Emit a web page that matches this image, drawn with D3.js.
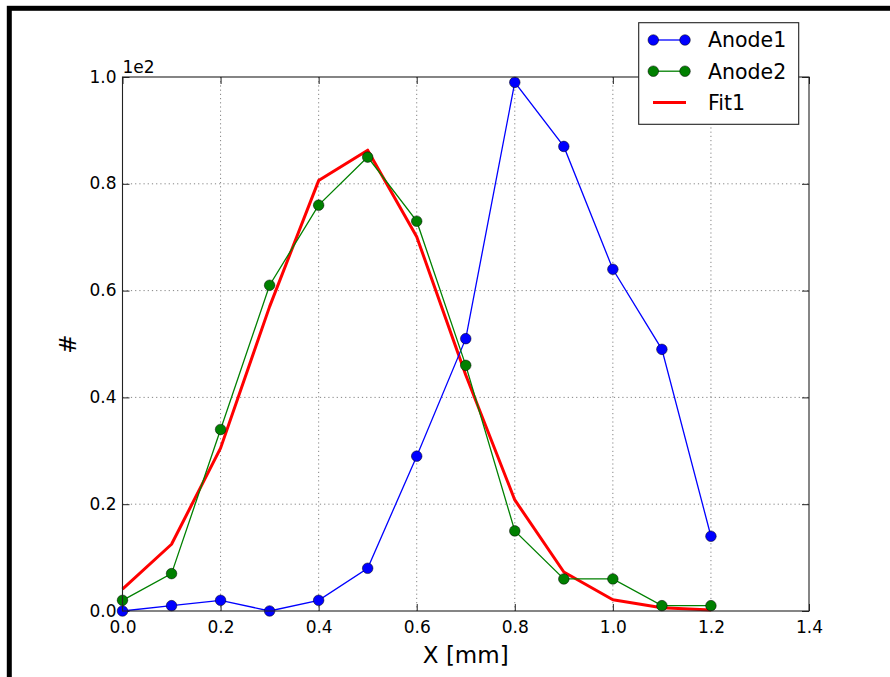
<!DOCTYPE html>
<html><head><meta charset="utf-8">
<script src="https://cdn.jsdelivr.net/npm/d3@7"></script>
<style>
html,body{margin:0;padding:0;background:#fff;}
svg{display:block;font-family:"DejaVu Sans",sans-serif;}
</style></head>
<body>
<script>
const xValues = [0.0,0.1,0.2,0.3,0.4,0.5,0.6,0.7,0.8,0.9,1.0,1.1,1.2];
const anode1 = [0,1,2,0,2,8,29,51,99,87,64,49,14];
const anode2 = [2,7,34,61,76,85,73,46,15,6,6,1,1];
const fit1 = [4.1,12.5,30.5,57,80.6,86.3,70.1,44.2,20.8,7.3,2.1,0.6,0.2];
const xTicks = [0.0,0.2,0.4,0.6,0.8,1.0,1.2,1.4];
const yTicks = [0,20,40,60,80,100];
const yOffsetLabel = "1e2";
const seriesNames = ["Anode1","Anode2","Fit1"];

const W = 890, H = 677;
const L = 122.5, R = 809, T = 77, B = 611;

const svg = d3.select("body").append("svg").attr("width", W).attr("height", H);

svg.append("rect").attr("x", 9.3).attr("y", 8.3).attr("width", 960).attr("height", 760)
  .attr("fill", "none").attr("stroke", "#000").attr("stroke-width", 5);

const x = d3.scaleLinear().domain([0, 1.4]).range([L, R]);
const y = d3.scaleLinear().domain([0, 100]).range([B, T]);

const grid = svg.append("g");
grid.selectAll(".gx").data(xTicks.slice(1, -1)).enter().append("line")
  .attr("x1", d => x(d)).attr("x2", d => x(d)).attr("y1", T).attr("y2", B)
  .attr("stroke", "#666").attr("stroke-width", 0.8).attr("stroke-dasharray", "1.2,3");
grid.selectAll(".gy").data(yTicks.slice(1, -1)).enter().append("line")
  .attr("y1", d => y(d)).attr("y2", d => y(d)).attr("x1", L).attr("x2", R)
  .attr("stroke", "#666").attr("stroke-width", 0.8).attr("stroke-dasharray", "1.2,3");

// Axes with inside ticks
const fmtY = d => (d / 100).toFixed(1);
const fmtX = d => d.toFixed(1);
const axB = svg.append("g").attr("transform", `translate(0,${B})`)
  .call(d3.axisBottom(x).tickValues(xTicks).tickFormat(fmtX).tickSizeInner(-7).tickSizeOuter(0).tickPadding(10));
const axT = svg.append("g").attr("transform", `translate(0,${T})`)
  .call(d3.axisTop(x).tickValues(xTicks).tickFormat("").tickSizeInner(-7).tickSizeOuter(0));
const axL = svg.append("g").attr("transform", `translate(${L},0)`)
  .call(d3.axisLeft(y).tickValues(yTicks).tickFormat(fmtY).tickSizeInner(-7).tickSizeOuter(0).tickPadding(6));
const axR = svg.append("g").attr("transform", `translate(${R},0)`)
  .call(d3.axisRight(y).tickValues(yTicks).tickFormat("").tickSizeInner(-7).tickSizeOuter(0));
[axB, axT, axL, axR].forEach(a => {
  a.select(".domain").remove();
  a.selectAll("line").attr("stroke", "#222").attr("stroke-width", 1);
  a.selectAll("text").attr("fill", "#000").style("font-size", "17px").style("font-family", "DejaVu Sans");
});
axB.selectAll("text").attr("dy", "0.71em");
axL.selectAll("text").attr("dy", "0.3em");

svg.append("text").attr("x", L).attr("y", 72.5).text(yOffsetLabel)
  .style("font-size", "17px");

// data lines
const pts = arr => xValues.map((v, i) => [v, arr[i]]);
const line = d3.line().x(d => x(d[0])).y(d => y(d[1]));
const plot = svg.append("g");

plot.append("path").datum(pts(fit1)).attr("d", line)
  .attr("fill", "none").attr("stroke", "#ff0000").attr("stroke-width", 3).attr("stroke-linejoin", "round");

function series(arr, color) {
  plot.append("path").datum(pts(arr)).attr("d", line)
    .attr("fill", "none").attr("stroke", color).attr("stroke-width", 1.3);
  plot.append("g").selectAll("circle").data(pts(arr)).enter().append("circle")
    .attr("cx", d => x(d[0])).attr("cy", d => y(d[1])).attr("r", 5.3)
    .attr("fill", color).attr("stroke", "#000").attr("stroke-width", 0.5);
}
series(anode1, "#0000ff");
series(anode2, "#008000");

// frame
svg.append("rect").attr("x", L).attr("y", T).attr("width", R - L).attr("height", B - T)
  .attr("fill", "none").attr("stroke", "#222").attr("stroke-width", 1.1);

// axis labels
svg.append("text").attr("x", (L + R) / 2).attr("y", 663).attr("text-anchor", "middle")
  .style("font-size", "23px").text("X [mm]");
svg.append("text").attr("transform", `translate(76,${(T + B) / 2}) rotate(-90)`)
  .attr("text-anchor", "middle").style("font-size", "23px").text("#");

// legend
const lg = svg.append("g");
lg.append("rect").attr("x", 638.7).attr("y", 22.7).attr("width", 160).attr("height", 101.6)
  .attr("fill", "#fff").attr("stroke", "#222").attr("stroke-width", 1.1);
const colors = ["#0000ff", "#008000", "#ff0000"];
const rowsY = [40, 71.2, 102.5];
seriesNames.forEach((name, i) => {
  const yy = rowsY[i];
  if (i < 2) {
    lg.append("line").attr("x1", 653.3).attr("x2", 685).attr("y1", yy).attr("y2", yy)
      .attr("stroke", colors[i]).attr("stroke-width", 1.3);
    [653.3, 685].forEach(cx => lg.append("circle").attr("cx", cx).attr("cy", yy).attr("r", 5.3)
      .attr("fill", colors[i]).attr("stroke", "#000").attr("stroke-width", 0.5));
  } else {
    lg.append("line").attr("x1", 653).attr("x2", 686).attr("y1", yy).attr("y2", yy)
      .attr("stroke", colors[i]).attr("stroke-width", 3);
  }
  lg.append("text").attr("x", 708).attr("y", yy).attr("dy", "0.36em")
    .style("font-size", "20.5px").text(name);
});
</script>
</body></html>
